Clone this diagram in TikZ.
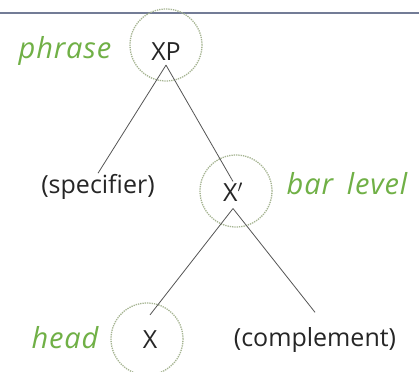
\documentclass[tikz,border=0pt]{standalone}
\usepackage{fontspec}
\setmainfont{Open Sans}
\definecolor{lblgreen}{RGB}{112,176,70}
\definecolor{ringc}{RGB}{165,180,145}
\definecolor{rulec}{RGB}{115,124,150}
\definecolor{linec}{RGB}{85,85,85}
\begin{document}
\begin{tikzpicture}[x=1pt,y=-1pt,
  word/.style={font=\fontsize{25}{28}\selectfont, text=black!85, inner sep=1pt},
  lbl/.style={font=\fontsize{29}{32}\selectfont\itshape\addfontfeatures{LetterSpace=3}, text=lblgreen, inner sep=0pt},
  ring/.style={circle, draw=ringc, densely dotted, line width=1.3pt, minimum size=72pt, inner sep=0pt},
  edge/.style={draw=linec, line width=0.8pt}]
\useasboundingbox (0,0) rectangle (419,371);
\fill[white] (0,0) rectangle (419,371);
\draw[rulec, line width=2pt] (0,13) -- (419,13);
% rings
\node[ring] (rxp) at (166,45) {};
\node[ring] (rxb) at (236,191) {};
\node[ring] (rx) at (147,339) {};
% words
\node[word] (xp) at (166,52) {XP};
\node[word] (spec) at (98,187) {(specifier)};
\node[word] (xb) at (233,192) {X$'$};
\node[word] (x) at (150,340) {X};
\node[word] (comp) at (315,340) {(complement)};
% labels
\node[lbl] (lphrase) at (65,51) {phrase};
\node[lbl] (lbar) at (347,184) {bar\hspace{14pt}level};
\node[lbl] (lhead) at (65,338) {head};
% edges
\draw[edge] ([yshift=-3pt]xp.south) -- (spec.north);
\draw[edge] ([yshift=-3pt]xp.south) -- (xb.north);
\draw[edge] ([yshift=-6pt]xb.south) -- ([yshift=15pt]x.north);
\draw[edge] ([yshift=-6pt]xb.south) -- ([yshift=14pt]comp.north);
\end{tikzpicture}
\end{document}
